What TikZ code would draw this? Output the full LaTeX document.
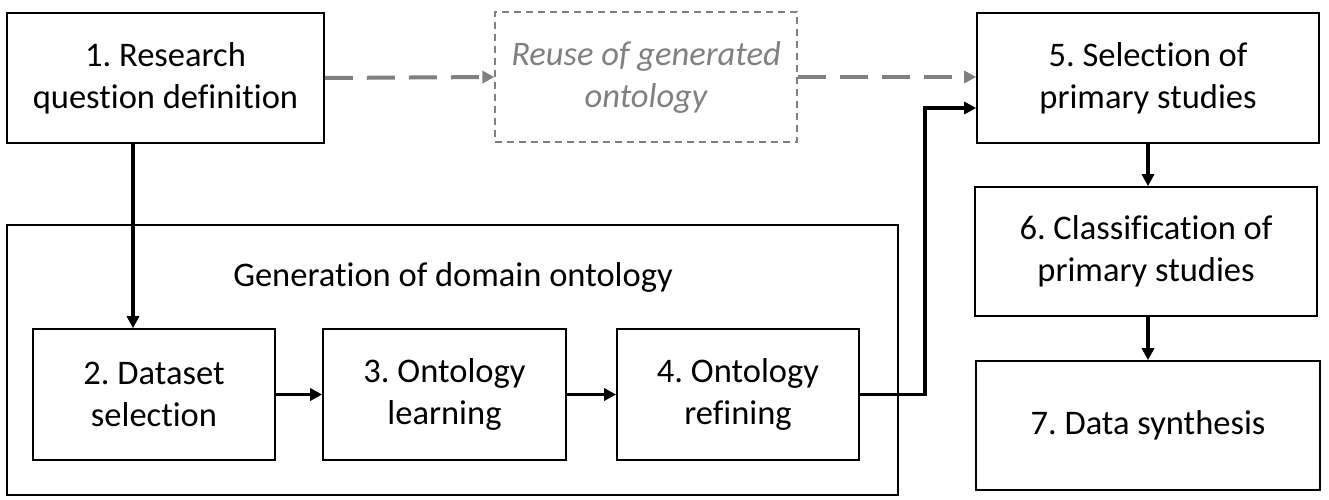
\documentclass[tikz,border=0pt]{standalone}
\usepackage{fontspec}
\setmainfont{Carlito}[Ligatures=NoCommon]
\usetikzlibrary{arrows.meta}
\definecolor{gr}{HTML}{808080}
\frenchspacing
\begin{document}
\begin{tikzpicture}[x=1pt,y=-1pt,
  box/.style={draw=black,line width=1.6pt,align=center,inner sep=0pt,
    font=\fontsize{34.5}{42}\selectfont},
  reusebox/.style={draw=gr,dashed,dash pattern=on 7pt off 5pt,line width=1.3pt,align=center,inner sep=0pt,
    text=gr,font=\fontsize{34.5}{42}\selectfont\itshape},
  arr/.style={line width=3.5pt,-{Triangle[length=12pt,width=12pt]}},
  garr/.style={draw=gr,line width=4pt,dash pattern=on 28pt off 14pt,-{Triangle[length=12pt,width=12pt]},gr}]
\useasboundingbox (0,0) rectangle (1329,499);
\node[box,minimum width=891pt,minimum height=270pt] (cont) at (452.5,360) {};
\node[font=\fontsize{34.5}{42}\selectfont] (title) at (453,277) {Generation of domain ontology};
\node[box,minimum width=317pt,minimum height=130pt] (b1) at (165.5,78) {1. Research\\question definition};
\node[reusebox,minimum width=302pt,minimum height=130pt] (reuse) at (646,77) {Reuse of generated\\ontology};
\node[box,minimum width=342pt,minimum height=130pt] (b5) at (1148,78) {5. Selection of\\primary studies};
\node[box,minimum width=342pt,minimum height=129pt] (b6) at (1146,251.5) {6. Classification of\\primary studies};
\node[box,minimum width=344pt,minimum height=129pt] (b7) at (1148,425.5) {7. Data synthesis};
\node[box,minimum width=242pt,minimum height=131pt] (b2) at (154,394.5) {2. Dataset\\selection};
\node[box,minimum width=243pt,minimum height=131pt] (b3) at (444.5,394.5) {3. Ontology\\learning};
\node[box,minimum width=242pt,minimum height=131pt] (b4) at (738,394.5) {4. Ontology\\refining};
\coordinate (c1) at (133,0);
\coordinate (turn) at (925,108);
\coordinate (c56) at (1148,0);
\draw[arr] (b1.south -| c1) -- (b2.north -| c1);
\draw[arr] (b2.east) -- (b3.west);
\draw[arr] (b3.east) -- (b4.west);
\draw[arr] (b4.east) -| (turn) -- (turn -| b5.west);
\draw[arr] (b5.south -| c56) -- (b6.north -| c56);
\draw[arr] (b6.south -| c56) -- (b7.north -| c56);
\draw[garr] (b1.east) -- (reuse.west);
\draw[garr] (reuse.east) -- (reuse.east -| b5.west);
\end{tikzpicture}
\end{document}
